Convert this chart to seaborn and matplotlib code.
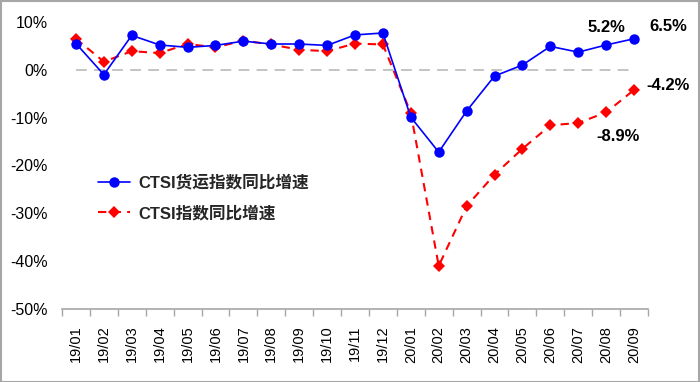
import numpy as np
import pandas as pd
import matplotlib
matplotlib.use("Agg")
import matplotlib.pyplot as plt
import seaborn as sns
from matplotlib.patches import Rectangle

categories = ["19/01", "19/02", "19/03", "19/04", "19/05", "19/06", "19/07",
              "19/08", "19/09", "19/10", "19/11", "19/12", "20/01", "20/02",
              "20/03", "20/04", "20/05", "20/06", "20/07", "20/08", "20/09"]
freight_growth = [5.5, -1.0, 7.2, 5.2, 4.7, 5.1, 6.0, 5.4, 5.4, 5.1, 7.3, 7.7,
                  -9.9, -17.2, -8.6, -1.3, 1.0, 4.9, 3.7, 5.2, 6.5]
ctsi_growth = [6.5, 1.7, 3.9, 3.5, 5.4, 4.7, 6.1, 5.3, 4.2, 3.9, 5.5, 5.3,
               -9.0, -41.0, -28.5, -21.9, -16.5, -11.6, -11.1, -8.9, -4.2]
series_names = ["CTSI货运指数同比增速", "CTSI指数同比增速"]
y_ticks = [10, 0, -10, -20, -30, -40, -50]

sns.set_theme(style="white")
plt.rcParams["font.family"] = ["Liberation Sans", "Noto Sans CJK SC", "DejaVu Sans"]

pos = np.arange(len(categories))
df = pd.DataFrame({"pos": pos, "freight": freight_growth, "ctsi": ctsi_growth})

fig = plt.figure(figsize=(7.0, 3.82), dpi=100)
ax = fig.add_axes([62 / 700, 1 - 309 / 382, (648 - 62) / 700, (309 - 22) / 382])

# zero reference line
ax.plot([pos[0], pos[-1]], [0, 0], color="#BFBFBF", lw=1.3, dashes=(6, 4), zorder=1)

sns.lineplot(data=df, x="pos", y="freight", ax=ax, color="#0000FF", lw=1.2,
             marker="o", markersize=7.5, markeredgewidth=0, label=series_names[0],
             zorder=3)
sns.lineplot(data=df, x="pos", y="ctsi", ax=ax, color="#FF0000", lw=1.5,
             marker="D", markersize=6, markeredgewidth=0, label=series_names[1],
             zorder=2)
ax.lines[-1].set_dashes((4, 3))

ax.set_xlim(-0.5, len(categories) - 0.5)
ax.set_ylim(-50, 10)
ax.set_xlabel("")
ax.set_ylabel("")

ax.set_xticks(pos)
ax.set_xticklabels(categories, rotation=90, fontsize=10.5, color="black")
ax.set_xticks(np.arange(len(categories) + 1) - 0.5, minor=True)
ax.tick_params(axis="x", which="major", length=0, pad=12)
ax.tick_params(axis="x", which="minor", length=5, width=1, color="#A6A6A6",
               direction="out", bottom=True)
ax.set_yticks(y_ticks)
ax.set_yticklabels([f"{v}%" for v in y_ticks], fontsize=11.5, color="black")
ax.tick_params(axis="y", length=0, pad=10)

for s in ["left", "right", "top"]:
    ax.spines[s].set_visible(False)
ax.spines["bottom"].set_color("#A6A6A6")
ax.spines["bottom"].set_linewidth(1.2)

# value labels
lab_kw = dict(textcoords="offset pixels", fontsize=12, fontweight="bold",
              color="black", ha="center", va="center", annotation_clip=False)
ax.annotate(f"{freight_growth[19]}%", (pos[19], freight_growth[19]), xytext=(0, 17), **lab_kw)
ax.annotate(f"{freight_growth[20]}%", (pos[20], freight_growth[20]), xytext=(34, 12), **lab_kw)
ax.annotate(f"{ctsi_growth[20]}%", (pos[20], ctsi_growth[20]), xytext=(34, 4), **lab_kw)
ax.annotate(f"{ctsi_growth[19]}%", (pos[19], ctsi_growth[19]), xytext=(12, -24), **lab_kw)

leg = ax.legend(loc="center left", bbox_to_anchor=(98 / 700, 1 - 198 / 382),
                bbox_transform=fig.transFigure, frameon=False, borderpad=0,
                borderaxespad=0, handlelength=1.9, handletextpad=0.5,
                labelspacing=0.9, prop={"size": 12, "weight": "bold"})

fig.patches.append(Rectangle((0.001, 0.001), 0.998, 0.997, transform=fig.transFigure,
                             fill=False, edgecolor="#A6A6A6", lw=1.5))

fig.savefig("out.png", dpi=100)
